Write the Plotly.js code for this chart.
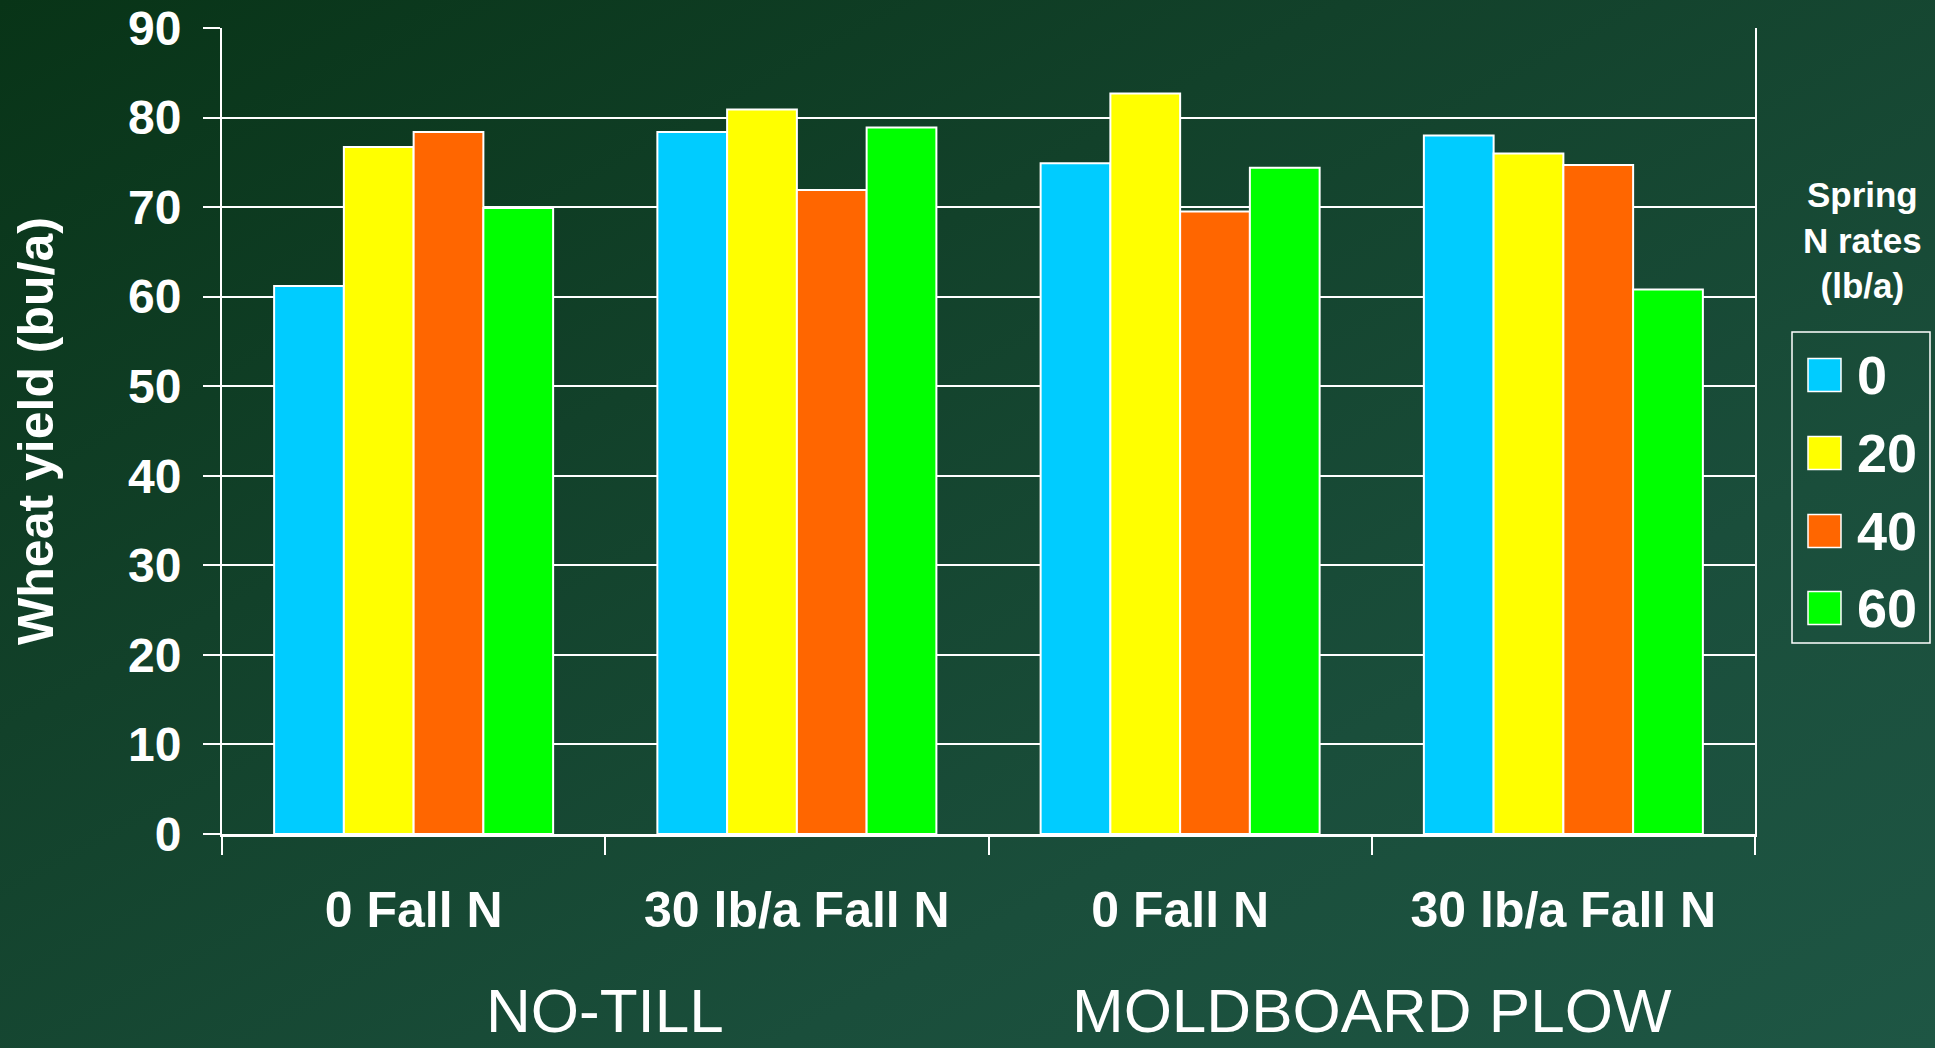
<!DOCTYPE html>
<html>
<head>
<meta charset="utf-8">
<script src="https://cdn.plot.ly/plotly-3.0.1.min.js"></script>
<style>
  html, body { margin:0; padding:0; width:1935px; height:1048px; overflow:hidden;
    background: linear-gradient(to bottom right, #083417 0%, #12412a 35%, #1a4e3b 70%, #1e5644 100%); }
  #chart { width:1935px; height:1048px; }
</style>
</head>
<body>
<div id="chart"></div>
<script>
// ---- data ----
const categoryIds = ['NT-0', 'NT-30', 'MP-0', 'MP-30'];
const categoryLabels = ['0 Fall N', '30 lb/a Fall N', '0 Fall N', '30 lb/a Fall N'];
const tillageGroups = ['NO-TILL', 'MOLDBOARD PLOW'];
const seriesNames = ['0', '20', '40', '60'];
const yield0  = [61.2, 78.4, 74.9, 78.0];
const yield20 = [76.7, 80.9, 82.7, 76.0];
const yield40 = [78.4, 71.9, 69.5, 74.7];
const yield60 = [69.9, 78.9, 74.4, 60.8];
const seriesColors = ['#00CCFF', '#FFFF00', '#FF6600', '#00FF00'];
const yTicks = [0, 10, 20, 30, 40, 50, 60, 70, 80, 90];

const seriesValues = [yield0, yield20, yield40, yield60];

// ---- layout geometry ----
const W = 1935, H = 1048;
const M = {l: 222, r: 180, t: 28, b: 214};
const plotW = W - M.l - M.r, plotH = H - M.t - M.b;
const px2x = p => (p - M.l) / plotW;
const px2y = p => (H - M.b - p) / plotH;

const FONT = 'Liberation Sans, Arial, sans-serif';

const traces = seriesNames.map((n, i) => ({
  type: 'bar',
  name: n,
  x: categoryIds,
  y: seriesValues[i],
  marker: {color: seriesColors[i], line: {color: '#FFFFFF', width: 2}},
  showlegend: false,
  hoverinfo: 'x+y+name'
}));

const shapes = [];
const annotations = [];

// legend box
shapes.push({type: 'rect', xref: 'paper', yref: 'paper',
  x0: px2x(1792), x1: px2x(1930), y0: px2y(643), y1: px2y(332),
  line: {color: '#FFFFFF', width: 1.5}, fillcolor: 'rgba(0,0,0,0)'});
const itemY = [375, 453, 531, 608];
seriesNames.forEach((n, i) => {
  shapes.push({type: 'rect', xref: 'paper', yref: 'paper',
    x0: px2x(1808), x1: px2x(1841), y0: px2y(itemY[i] + 16.5), y1: px2y(itemY[i] - 16.5),
    fillcolor: seriesColors[i], line: {color: '#FFFFFF', width: 1.5}});
  annotations.push({xref: 'paper', yref: 'paper', x: px2x(1855), y: px2y(itemY[i]),
    xanchor: 'left', yanchor: 'middle', showarrow: false, text: n,
    font: {family: FONT, size: 54, color: '#FFFFFF', weight: 'bold'}});
});
// legend title
annotations.push({xref: 'paper', yref: 'paper', x: px2x(1862), y: px2y(240),
  xanchor: 'center', yanchor: 'middle', showarrow: false,
  text: 'Spring<br>N rates<br>(lb/a)', align: 'center',
  font: {family: FONT, size: 35, color: '#FFFFFF', weight: 'bold'}});

// tillage group labels
tillageGroups.forEach((g, i) => {
  annotations.push({xref: 'x', yref: 'paper', x: 0.5 + 2 * i, y: px2y(1010),
    xanchor: 'center', yanchor: 'middle', showarrow: false, text: g,
    font: {family: FONT, size: 62, color: '#FFFFFF'}});
});

const layout = {
  width: W, height: H,
  margin: M,
  paper_bgcolor: 'rgba(0,0,0,0)',
  plot_bgcolor: 'rgba(0,0,0,0)',
  barmode: 'group',
  bargap: 0.272,
  bargroupgap: 0,
  showlegend: false,
  xaxis: {
    type: 'category',
    tickmode: 'array',
    tickvals: categoryIds,
    ticktext: categoryLabels,
    tickson: 'boundaries',
    ticks: 'outside', ticklen: 18, tickwidth: 2, tickcolor: '#FFFFFF',
    showline: true, linecolor: '#FFFFFF', linewidth: 3,
    showgrid: false,
    ticklabelstandoff: 30,
    tickfont: {family: FONT, size: 50, color: '#FFFFFF', weight: 'bold'}
  },
  yaxis: {
    range: [0, 90],
    tickmode: 'array', tickvals: yTicks,
    ticks: 'outside', ticklen: 17, tickwidth: 2, tickcolor: '#FFFFFF',
    showline: true, mirror: true, linecolor: '#FFFFFF', linewidth: 2,
    showgrid: true, gridcolor: '#FFFFFF', gridwidth: 2,
    zeroline: false,
    ticklabelstandoff: 12,
    tickfont: {family: FONT, size: 48, color: '#FFFFFF', weight: 'bold'},
    title: {text: 'Wheat yield (bu/a)', standoff: 59,
      font: {family: FONT, size: 50, color: '#FFFFFF', weight: 'bold'}}
  },
  shapes: shapes,
  annotations: annotations
};

Plotly.newPlot('chart', traces, layout, {displayModeBar: false, staticPlot: true});
</script>
</body>
</html>
